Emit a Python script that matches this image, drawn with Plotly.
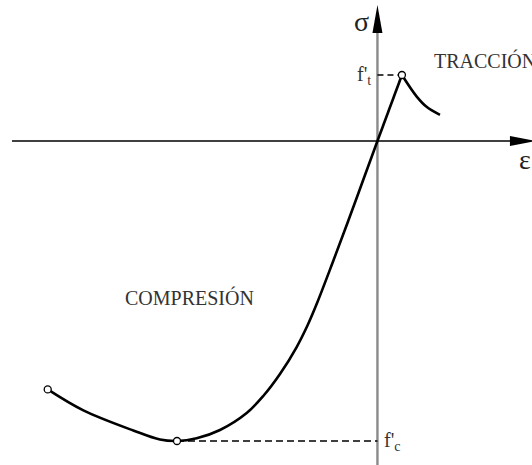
import plotly.graph_objects as go

# Normalised stress-strain curve of concrete: strain / strain at peak compression,
# stress / compressive strength f'c
comp_strain = [0.0, -0.0748, -0.1496, -0.2244, -0.2993, -0.3491, -0.403, -0.4863,
               -0.5696, -0.6524, -0.7855, -0.9017, -1.0, -1.085, -1.218, -1.467, -1.645]
comp_stress = [0.0, -0.1367, -0.2733, -0.4067, -0.5367, -0.615, -0.6867, -0.7767,
               -0.85, -0.9067, -0.9633, -0.991, -1.0, -0.995, -0.965, -0.898, -0.828]

tens_rise_strain = [0.0, 0.122]
tens_rise_stress = [0.0, 0.22]
tens_fall_strain = [0.122, 0.196, 0.245, 0.312]
tens_fall_stress = [0.22, 0.148, 0.114, 0.087]

# highlighted points: end of softening branch, f'c peak, f't peak
key_strain = [-1.645, -1.0, 0.122]
key_stress = [-0.828, -1.0, 0.22]

ft_stress = 0.22
fc_stress = -1.0
fc_strain = -1.0

x_range = [-1.883, 0.771]
y_range = [-1.08, 0.47]

serif = "Liberation Serif, Times New Roman, serif"
curve = dict(color="black", width=2.6)

fig = go.Figure()

# axes
fig.add_trace(go.Scatter(x=[0, 0], y=[y_range[0], 0.37], mode="lines",
                         line=dict(color="#8a8a8a", width=2.4), hoverinfo="skip"))
fig.add_trace(go.Scatter(x=[-1.823, 0.665], y=[0, 0], mode="lines",
                         line=dict(color="black", width=1.6), hoverinfo="skip"))

# dashed guides to the axis
fig.add_trace(go.Scatter(x=[0, key_strain[2]], y=[ft_stress, ft_stress], mode="lines",
                         line=dict(color="black", width=1.4, dash="6px,4px"), hoverinfo="skip"))
fig.add_trace(go.Scatter(x=[fc_strain, 0], y=[fc_stress, fc_stress], mode="lines",
                         line=dict(color="black", width=1.4, dash="7px,4px"), hoverinfo="skip"))

# curve
fig.add_trace(go.Scatter(x=comp_strain, y=comp_stress, mode="lines",
                         line=dict(shape="spline", smoothing=1.0, **curve), hoverinfo="skip"))
fig.add_trace(go.Scatter(x=tens_rise_strain, y=tens_rise_stress, mode="lines",
                         line=curve, hoverinfo="skip"))
fig.add_trace(go.Scatter(x=tens_fall_strain, y=tens_fall_stress, mode="lines",
                         line=dict(shape="spline", smoothing=1.0, **curve), hoverinfo="skip"))
fig.add_trace(go.Scatter(x=key_strain, y=key_stress, mode="markers",
                         marker=dict(size=7, color="white", line=dict(color="black", width=1.3)),
                         hoverinfo="skip"))

# arrowheads anchored at the axis tips
fig.add_shape(type="path", xref="x", yref="y", xsizemode="pixel", ysizemode="pixel",
              xanchor=0, yanchor=0.36, path="M -5 0 L 0 28 L 5 0 Z",
              fillcolor="black", line=dict(width=0))
fig.add_shape(type="path", xref="x", yref="y", xsizemode="pixel", ysizemode="pixel",
              xanchor=0.661, yanchor=0, path="M 0 -5 L 26 0 L 0 5 Z",
              fillcolor="black", line=dict(width=0))


def label(x, y, text, size, anchor="center", dx=0, dy=0, color="#333"):
    fig.add_annotation(x=x, y=y, xref="x", yref="y", text=text, showarrow=False,
                       xanchor=anchor, yanchor="middle", xshift=dx, yshift=dy,
                       font=dict(family=serif, size=size, color=color))


label(0, 0.36, "σ", 28, dx=-16, dy=12, color="#222")
label(0.737, 0, "ε", 28, dy=-18, color="#222")
label(0, ft_stress, "f'<sub>t</sub>", 20, anchor="right", dx=-4, dy=0)
label(0, fc_stress, "f'<sub>c</sub>", 20, anchor="left", dx=5, dy=0)
label(0.272, 0.27, "TRACCIÓN", 20, anchor="left")
label(-1.269, -0.52, "COMPRESIÓN", 20, anchor="left")

fig.update_layout(
    width=532, height=465,
    margin=dict(l=0, r=0, t=0, b=0),
    paper_bgcolor="white", plot_bgcolor="white",
    showlegend=False,
    xaxis=dict(range=x_range, visible=False, fixedrange=True),
    yaxis=dict(range=y_range, visible=False, fixedrange=True),
)

fig.write_html("out.html")
